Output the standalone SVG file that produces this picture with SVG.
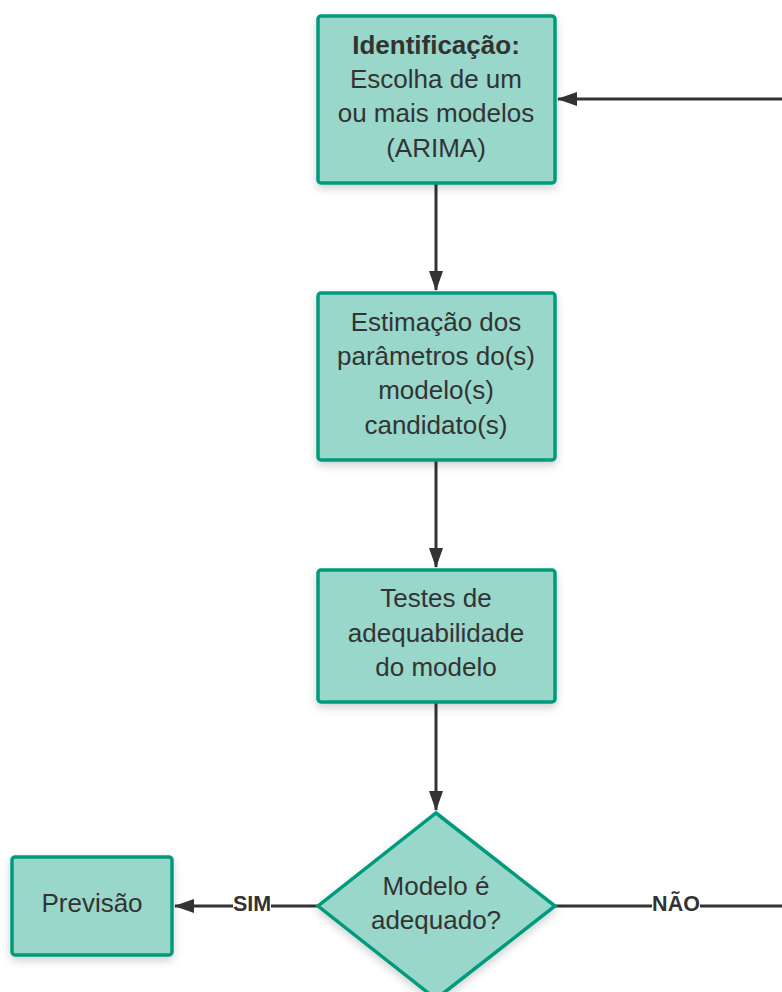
<svg xmlns="http://www.w3.org/2000/svg" width="782" height="992" viewBox="0 0 782 992">
<style>
.n{fill:#98d7ca;stroke:#009b7d;stroke-width:3.5;filter:url(#sh)}
.t{font-family:"Liberation Sans",Arial,sans-serif;font-size:26px;fill:#333;text-anchor:middle}
.b{font-weight:bold}
.c{stroke:#333;stroke-width:3;fill:none}
.l{font-family:"Liberation Sans",Arial,sans-serif;font-size:21.5px;font-weight:bold;fill:#333;text-anchor:middle}
</style>
<defs>
<filter id="sh" x="-20%" y="-20%" width="140%" height="150%">
<feDropShadow dx="0" dy="4" stdDeviation="4" flood-color="#000" flood-opacity="0.18"/>
</filter>
<marker id="a" viewBox="0 0 20 14" refX="19" refY="7" markerWidth="20" markerHeight="14" markerUnits="userSpaceOnUse" orient="auto">
<path d="M0,0 L20,7 L0,14 Z" fill="#333"/>
</marker>
</defs>
<g id="connectors">
<line class="c" x1="436" y1="184" x2="436" y2="290" marker-end="url(#a)"/>
<line class="c" x1="436" y1="461" x2="436" y2="567" marker-end="url(#a)"/>
<line class="c" x1="436" y1="703" x2="436" y2="810" marker-end="url(#a)"/>
<line class="c" x1="782" y1="99" x2="558" y2="99" marker-end="url(#a)"/>
<line class="c" x1="318" y1="906" x2="175" y2="906" marker-end="url(#a)"/>
<line class="c" x1="555" y1="906" x2="782" y2="906"/>
<rect x="233" y="895" width="38" height="22" fill="#fff"/>
<text class="l" x="252" y="911">SIM</text>
<rect x="652" y="895" width="48" height="22" fill="#fff"/>
<text class="l" x="676" y="911">NÃO</text>
</g>
<g id="identificacao">
<rect class="n" x="318" y="16" width="237" height="167" rx="3"/>
<text class="t b" x="436" y="54">Identificação:</text>
<text class="t" x="436" y="88">Escolha de um</text>
<text class="t" x="436" y="122">ou mais modelos</text>
<text class="t" x="436" y="157">(ARIMA)</text>
</g>
<g id="estimacao">
<rect class="n" x="318" y="293" width="237" height="167" rx="3"/>
<text class="t" x="436" y="331">Estimação dos</text>
<text class="t" x="436" y="365">parâmetros do(s)</text>
<text class="t" x="436" y="399">modelo(s)</text>
<text class="t" x="436" y="434">candidato(s)</text>
</g>
<g id="testes">
<rect class="n" x="318" y="570" width="237" height="132" rx="3"/>
<text class="t" x="436" y="607">Testes de</text>
<text class="t" x="436" y="642">adequabilidade</text>
<text class="t" x="436" y="676">do modelo</text>
</g>
<g id="decisao">
<polygon class="n" points="436,813 555,906 436,999 318,906"/>
<text class="t" x="436" y="895">Modelo é</text>
<text class="t" x="436" y="929">adequado?</text>
</g>
<g id="previsao">
<rect class="n" x="12" y="857" width="160" height="98" rx="3"/>
<text class="t" x="92" y="912">Previsão</text>
</g>
</svg>
